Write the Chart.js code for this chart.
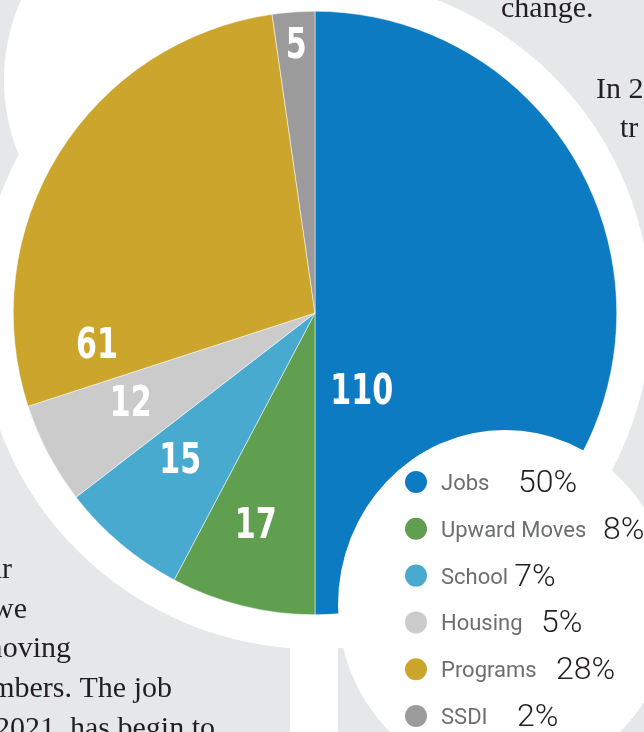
<!DOCTYPE html>
<html>
<head>
<meta charset="utf-8">
<script src="https://cdn.jsdelivr.net/npm/chart.js@4.4.1/dist/chart.umd.min.js"></script>
<style>
  html, body { margin: 0; padding: 0; background: #e6e7e8; }
  #wrap { width: 644px; height: 732px; position: relative; overflow: hidden; }
</style>
</head>
<body>
<div id="wrap"><canvas id="myChart" width="644" height="732"></canvas></div>
<script>
'use strict';

let categories = ['Jobs', 'Upward Moves', 'School', 'Housing', 'Programs', 'SSDI'];
let counts = [110, 17, 15, 12, 61, 5];
let sliceColors = ['#0d7bc1', '#5f9f4f', '#49aad0', '#cbcbcb', '#cba52c', '#9b9b9b'];

// where the count sits inside its slice: share of the arc angle, share of the radius
let labelAngle = [0.827, 0.56, 0.6, 0.59, 0.096, 0.51];
let labelRadius = [0.30, 0.73, 0.66, 0.68, 0.73, 0.89];
// x where each percentage starts in the legend
let pctX = [518, 603, 505, 541, 556, 517];

let serif = '"Liberation Serif", "DejaVu Serif", serif';

function drawPage(chart) {
  let ctx = chart.ctx;
  ctx.save();
  ctx.fillStyle = '#e6e7e8';
  ctx.fillRect(0, 0, chart.width, chart.height);

  ctx.fillStyle = '#ffffff';
  ctx.beginPath();
  ctx.arc(200, 80, 196, 0, Math.PI * 2);
  ctx.fill();
  ctx.beginPath();
  ctx.arc(315, 313, 336, 0, Math.PI * 2);
  ctx.fill();
  ctx.fillRect(290, 600, 48, 140);

  // body text of the page around the chart
  ctx.fillStyle = '#231f20';
  ctx.font = '30px ' + serif;
  ctx.textAlign = 'left';
  ctx.fillText('change.', 501, 17);
  ctx.fillText('In 2021', 596, 98);
  ctx.fillText('tr', 620, 137);
  ctx.textAlign = 'right';
  ctx.fillText('our', 12, 578);
  ctx.fillText('we', 27, 618);
  ctx.fillText('moving', 71, 657);
  ctx.fillText('numbers. The job', 172, 697);
  ctx.fillText('2021, has begin to', 215, 737);
  ctx.restore();
}

let pagePlugin = {
  id: 'page',
  beforeDraw(chart) {
    drawPage(chart);
  }
};

let countLabels = {
  id: 'countLabels',
  afterDatasetsDraw(chart) {
    let ctx = chart.ctx;
    let arcs = chart.getDatasetMeta(0).data;
    ctx.save();
    ctx.fillStyle = '#ffffff';
    ctx.font = 'bold 43px "DejaVu Sans Condensed", "DejaVu Sans", sans-serif';
    ctx.textAlign = 'center';
    ctx.textBaseline = 'middle';
    for (let i = 0; i < arcs.length; i++) {
      let a = arcs[i];
      let ang = a.startAngle + (a.endAngle - a.startAngle) * labelAngle[i];
      let r = a.outerRadius * labelRadius[i];
      let x = a.x + Math.cos(ang) * r;
      let y = a.y + Math.sin(ang) * r;
      ctx.save();
      ctx.translate(x, y + 2);
      ctx.scale(0.78, 1);
      ctx.fillText(String(chart.data.datasets[0].data[i]), 0, 0);
      ctx.restore();
    }
    ctx.restore();
  }
};

let circleLegend = {
  id: 'circleLegend',
  afterDraw(chart) {
    let ctx = chart.ctx;
    let data = chart.data.datasets[0].data;
    let total = data.reduce((s, v) => s + v, 0);
    ctx.save();
    ctx.fillStyle = '#ffffff';
    ctx.beginPath();
    ctx.ellipse(505, 605, 167, 175, 0, 0, Math.PI * 2);
    ctx.fill();

    for (let i = 0; i < chart.data.labels.length; i++) {
      let y = 482 + i * 46.8;
      ctx.fillStyle = chart.data.datasets[0].backgroundColor[i];
      ctx.beginPath();
      ctx.arc(416, y, 11, 0, Math.PI * 2);
      ctx.fill();

      ctx.textAlign = 'left';
      ctx.textBaseline = 'alphabetic';
      ctx.fillStyle = '#6d6e71';
      ctx.font = '22px Roboto, sans-serif';
      ctx.fillText(chart.data.labels[i], 441, y + 8);
      let labelEnd = 441 + ctx.measureText(chart.data.labels[i]).width;

      ctx.fillStyle = '#231f20';
      ctx.font = '300 32px Roboto, sans-serif';
      let px = Math.max(pctX[i], labelEnd + 6);
      ctx.fillText(Math.round(data[i] / total * 100) + '%', px, y + 10);
    }
    ctx.restore();
  }
};

let ctx = document.getElementById('myChart').getContext('2d');
new Chart(ctx, {
  type: 'pie',
  data: {
    labels: categories,
    datasets: [{
      data: counts,
      backgroundColor: sliceColors,
      borderColor: '#ffffff',
      borderWidth: 0.5,
      hoverOffset: 0
    }]
  },
  options: {
    responsive: false,
    devicePixelRatio: 1,
    animation: false,
    events: [],
    layout: {
      padding: { left: 13, top: 11, right: 27, bottom: 117 }
    },
    plugins: {
      legend: { display: false },
      tooltip: { enabled: false }
    }
  },
  plugins: [pagePlugin, countLabels, circleLegend]
});
</script>
</body>
</html>
